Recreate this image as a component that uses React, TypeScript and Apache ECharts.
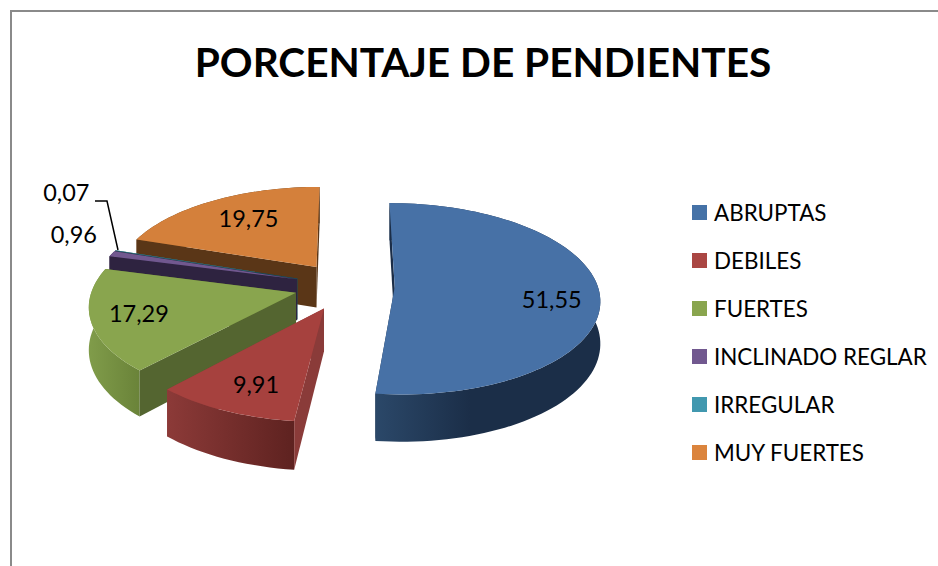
import React, { useEffect, useRef } from "react";
import * as echarts from "echarts";

const TITLE = "PORCENTAJE DE PENDIENTES";
const CATEGORIES = ["ABRUPTAS", "DEBILES", "FUERTES", "INCLINADO REGLAR", "IRREGULAR", "MUY FUERTES"];
const VALUES = [51.55, 9.91, 17.29, 0.96, 0.07, 19.75];

const TOP_COLORS = ["#4572A7", "#AA4643", "#89A54E", "#71588F", "#4198AF", "#DB843D"];
const SLICE_TOPS = ["#4771A6", "#A6413E", "#89A54E", "#71588F", "#4198AF", "#D4803B"];
const CUT_COLORS = ["#1B2D47", "#8A3B39", "#546530", "#2E2340", "#1F4A55", "#5A3617"];
const WALL_STOPS: [number, string][][] = [
  [[0, "#2B4869"], [0.42, "#1B2E48"], [1, "#1B2E48"]],
  [[0, "#8C3A38"], [1, "#5E2220"]],
  [[0, "#809C4A"], [1, "#6A8339"]],
  [[0, "#3A2C50"], [1, "#2E2340"]],
  [[0, "#2A6575"], [1, "#1F4A55"]],
  [[0, "#6E4520"], [1, "#5A3617"]],
];
const PAINT_ORDER = [5, 4, 3, 2, 1, 0]; // slice indices, back to front
const EXPLOSIONS = [0.24, 0.255, 0.255, 0.255, 0.255, 0.255];
const LABEL_OFFSETS: [number, number][] = [
  [157, 12],
  [-68, 76],
  [-157, 20],
  [-223, -45],
  [-231, -86],
  [-68, -49],
];

const CX = 346, CY = 286, RX = 203, RY = 94, K = 0.12, DEPTH = 41.5;
const FONT = "Lato";

const total = VALUES.reduce((a, b) => a + b, 0);
const rad = Math.PI / 180;
const starts: number[] = [];
VALUES.reduce((acc, v, i) => { starts[i] = acc; return acc + (v / total) * 360; }, 0);

function project(u: number, v: number, drop: number): number[] {
  const den = 1 - K * v;
  return [CX + (RX * u) / den, CY + (RY * v + drop) / den];
}

function renderSlice(params: any, api: any) {
  const i = api.value(0);
  const s = starts[i];
  const e = s + (api.value(1) / total) * 360;
  const mid = ((s + e) / 2) * rad;
  const ou = EXPLOSIONS[i] * Math.sin(mid), ov = -EXPLOSIONS[i] * Math.cos(mid);
  const steps = Math.max(2, Math.ceil((e - s) / 2));
  const rim: number[][] = [];
  for (let j = 0; j <= steps; j++) {
    const t = (s + ((e - s) * j) / steps) * rad;
    rim.push([ou + Math.sin(t), ov - Math.cos(t)]);
  }
  const top = rim.map((p) => project(p[0], p[1], 0));
  const bottom = rim.map((p) => project(p[0], p[1], DEPTH));
  const apex = project(ou, ov, 0);
  const apexB = project(ou, ov, DEPTH);

  const poly = (points: number[][], fill: any) => ({
    type: "polygon", shape: { points }, style: { fill, stroke: "none" }, silent: true,
  });
  const startCut = poly([apex, top[0], bottom[0], apexB], CUT_COLORS[i]);
  const endCut = poly([apex, top[steps], bottom[steps], apexB], CUT_COLORS[i]);
  const outer = poly(top.concat(bottom.slice().reverse()), {
    type: "linear", x: 0, y: 0, x2: 1, y2: 0,
    colorStops: WALL_STOPS[i].map(([offset, color]) => ({ offset, color })),
  });
  const startFacing = -Math.sin(s * rad), endFacing = Math.sin(e * rad);
  const walls = startFacing < endFacing ? [startCut, outer, endCut] : [endCut, outer, startCut];
  const face = poly([apex].concat(top), SLICE_TOPS[i]);
  const [dx, dy] = LABEL_OFFSETS[i];
  const label = {
    type: "text", silent: true,
    style: {
      text: api.value(1).toFixed(2).replace(".", ","),
      x: apex[0] + dx, y: apex[1] + dy,
      fill: "#000", fontFamily: FONT, fontSize: 23.5,
      align: "center", verticalAlign: "middle",
    },
  };
  return { type: "group", children: [...walls, face, label] };
}

export default function App() {
  const ref = useRef<HTMLDivElement>(null);
  useEffect(() => {
    document.body.style.margin = "0";
    const chart = echarts.init(ref.current!, undefined, { renderer: "svg" });
    chart.setOption({
      animation: false,
      backgroundColor: "#fff",
      title: {
        text: TITLE, left: 483, top: 41, textAlign: "center", padding: 0,
        textStyle: { fontFamily: FONT, fontWeight: "bold", fontSize: 40.6, color: "#000" },
      },
      legend: {
        orient: "vertical", left: 692, top: 201.5, padding: 0, icon: "rect",
        itemWidth: 15, itemHeight: 15, itemGap: 26, selectedMode: false,
        data: CATEGORIES,
        textStyle: { fontFamily: FONT, fontSize: 22.4, lineHeight: 22, color: "#000", padding: [0, 0, 0, 2] },
      },
      graphic: [
        {
          type: "rect", silent: true, z: 0,
          shape: { x: 11, y: 11, width: 1100, height: 800 },
          style: { fill: "none", stroke: "#8A8A8A", lineWidth: 2 },
        },
        {
          type: "polyline", silent: true, z: 20,
          shape: { points: [[95, 201], [107, 201], [118, 250]] },
          style: { fill: "none", stroke: "#000", lineWidth: 1.5 },
        },
      ],
      series: CATEGORIES.map((name, i) => ({
        type: "custom", name, coordinateSystem: "none",
        z: 2 + PAINT_ORDER.indexOf(i),
        itemStyle: { color: TOP_COLORS[i] },
        data: [[i, VALUES[i]]],
        renderItem: renderSlice,
      })),
    });
    return () => chart.dispose();
  }, []);
  return <div ref={ref} style={{ width: 938, height: 566 }} />;
}
